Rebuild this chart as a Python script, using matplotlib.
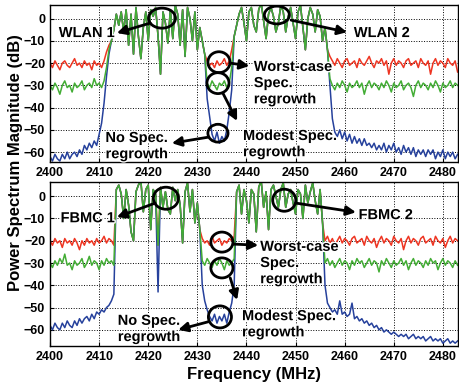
import matplotlib
matplotlib.use('agg')
import matplotlib.pyplot as plt
from matplotlib.patches import Ellipse
import matplotlib.patheffects as pe
import numpy as np

plt.rcParams['font.family'] = ['Liberation Sans', 'DejaVu Sans']
plt.rcParams['font.weight'] = 'bold'

# frequency grid, 0.5 MHz spacing
freq = np.arange(2400.0, 2483.01, 0.5)

# ---- WLAN measurement (upper panel) ----
wlan_red_left = [-20, -22, -19, -21, -23, -20, -19, -21, -22, -20, -18, -21, -20,
                 -22, -19, -21, -20, -23, -19, -21, -20, -22, -19, -15, -12]
wlan_green_left = [-30, -32, -29, -31, -34, -30, -28, -31, -30, -33, -29, -31, -30,
                   -28, -32, -30, -29, -31, -27, -30, -29, -31, -28, -22, -14]
wlan_blue_left = [-62, -64, -61, -63, -64, -61, -63, -60, -63, -61, -60, -62, -59,
                  -61, -57, -59, -56, -58, -55, -57, -52, -47, -38, -26, -16]
wlan_band1 = [-10, -5, 2, -3, 3, -6, 4, -12, 2, -16, 5, -8, -18, -4, 3, -10, 4, 1, 5,
              -8, -25, 3, -2, -11, 4, -9, 6, 2, -12, 4, -17, 5, 0, -10, 3, -14, -4,
              -10, -16]
wlan_red_gap = [-19, -21, -20, -22, -19, -21, -20, -18, -21, -19, -14]
wlan_green_gap = [-29, -31, -28, -30, -32, -29, -30, -28, -31, -29, -22]
wlan_blue_gap = [-36, -44, -52, -55, -51, -56, -53, -55, -50, -42, -32]
wlan_band2 = [-8, -3, 2, 5, -2, -10, 3, 5, -3, -6, 4, 7, -1, -9, 2, 5, 1, -6, -2, 6,
              3, -6, 1, 5, -2, -9, 3, 6, -4, -14, 0, 5, 2, -6, 4, 1, -10, -4, -14]
wlan_red_right = [-17, -19, -21, -18, -20, -22, -19, -18, -21, -20,
                  -19, -22, -18, -20, -21, -19, -17, -20, -22, -19,
                  -20, -18, -21, -19, -25, -20, -18, -21, -19, -20,
                  -22, -19, -18, -21, -20, -19, -22, -18, -20, -21,
                  -19, -25, -20, -18, -21, -19, -20, -22, -18, -20,
                  -21, -19, -24]
wlan_green_right = [-27, -30, -32, -29, -31, -28, -30, -33, -29, -31,
                    -30, -28, -31, -29, -34, -30, -28, -31, -29, -30,
                    -32, -29, -31, -28, -30, -33, -29, -31, -30, -28,
                    -32, -30, -29, -31, -35, -30, -28, -31, -29, -30,
                    -32, -29, -31, -28, -30, -33, -29, -31, -30, -28,
                    -31, -29, -30]
wlan_blue_right = [-30, -45, -51, -53, -50, -54, -51, -55, -52, -56,
                   -53, -56, -54, -57, -54, -57, -56, -58, -56, -59,
                   -57, -59, -56, -60, -57, -59, -56, -60, -58, -61,
                   -57, -60, -58, -61, -58, -62, -59, -61, -59, -62,
                   -59, -61, -59, -63, -60, -62, -59, -63, -60, -62,
                   -60, -63, -61]

# ---- FBMC measurement (lower panel) ----
fbmc_red_left = [-20, -22, -19, -21, -20, -23, -19, -21, -20, -22, -19, -21, -24, -20,
                 -22, -19, -21, -20, -22, -19, -21, -20, -18, -21, -19, -20, -22]
fbmc_green_left = [-30, -32, -29, -31, -28, -30, -26, -31, -30, -33, -29, -31, -30, -28,
                   -32, -30, -27, -31, -29, -30, -33, -29, -31, -28, -30, -29, -31]
fbmc_blue_left = [-58, -60, -57, -59, -60, -57, -59, -56, -58, -59, -56, -58, -55, -57,
                  -55, -54, -56, -53, -55, -52, -53, -51, -52, -50, -49, -47, -44]
fbmc_band1 = [3, 5, 1, -10, 3, -4, -16, -20, 2, 5, 7, -7, 3, 5, -15, 3, 1, -22, 4, -5,
              2, -6, -8, 4, -2, 3, -4, -21, 2, 6, -7, 3, -12, -3, -15]
fbmc_blue_notch = -43  # deep null at 2422 MHz, blue trace only
fbmc_red_gap = [-19, -21, -20, -22, -18, -21, -20, -19, -22, -20, -21, -19, -20, -18]
fbmc_green_gap = [-29, -31, -28, -30, -32, -29, -31, -28, -30, -33, -29, -31, -30, -28]
fbmc_blue_gap = [-40, -47, -51, -54, -56, -53, -57, -54, -56, -53, -57, -52, -48, -40]
fbmc_band2 = [2, 5, -8, 3, -2, -12, 3, 1, -16, 4, 7, -5, 2, -15, 3, 5, 0, -5, 3, 6,
              -5, 1, 3, -3, -8, 3, 1, -10, 5, -3, 2, 6, -2, -8, 3, -12]
fbmc_red_right = [-20, -18, -21, -19, -22, -20, -18, -21, -19, -20,
                  -22, -19, -18, -21, -20, -19, -22, -18, -20, -21,
                  -19, -23, -20, -18, -21, -19, -20, -22, -18, -20,
                  -21, -19, -24, -20, -18, -21, -19, -20, -22, -19,
                  -18, -21, -20, -19, -22, -18, -20, -21, -19, -23,
                  -20, -18, -21, -19, -20]
fbmc_green_right = [-30, -28, -31, -29, -32, -30, -28, -31, -29, -30,
                    -33, -29, -31, -28, -30, -29, -32, -30, -28, -31,
                    -29, -30, -34, -29, -31, -28, -30, -32, -29, -31,
                    -30, -28, -31, -29, -33, -30, -28, -31, -29, -30,
                    -32, -29, -31, -28, -30, -29, -33, -30, -28, -31,
                    -29, -30, -32, -29, -31]
fbmc_blue_right = [-40, -48, -50, -52, -51, -53, -47, -53, -52, -54,
                   -53, -48, -55, -54, -56, -55, -57, -56, -58, -57,
                   -59, -58, -60, -59, -61, -60, -61, -62, -61, -62,
                   -63, -62, -63, -62, -64, -63, -62, -64, -63, -64,
                   -63, -65, -64, -63, -65, -64, -65, -64, -66, -65,
                   -64, -66, -65, -66, -65]

xticks = [2400, 2410, 2420, 2430, 2440, 2450, 2460, 2470, 2480]
yticks = [0, -10, -20, -30, -40, -50, -60]

RED = '#ee3522'
GREEN = '#43ad35'
BLUE = '#26419c'


def trace(left, band1, gap, band2, right):
    return np.concatenate([left, band1, gap, band2, right]).astype(float)


wlan_red = trace(wlan_red_left, wlan_band1, wlan_red_gap, wlan_band2, wlan_red_right)
wlan_green = trace(wlan_green_left, wlan_band1, wlan_green_gap, wlan_band2, wlan_green_right)
wlan_blue = trace(wlan_blue_left, wlan_band1, wlan_blue_gap, wlan_band2, wlan_blue_right)

fbmc_blue_band1 = list(fbmc_band1)
fbmc_blue_band1[17] = fbmc_blue_notch
fbmc_red = trace(fbmc_red_left, fbmc_band1, fbmc_red_gap, fbmc_band2, fbmc_red_right)
fbmc_green = trace(fbmc_green_left, fbmc_band1, fbmc_green_gap, fbmc_band2, fbmc_green_right)
fbmc_blue = trace(fbmc_blue_left, fbmc_blue_band1, fbmc_blue_gap, fbmc_band2, fbmc_blue_right)


def style_axes(ax, ylim):
    ax.set_xlim(2400, 2483.1)
    ax.set_ylim(*ylim)
    ax.set_xticks(xticks)
    ax.set_yticks(yticks)
    ax.tick_params(direction='in', length=3, labelsize=9, width=0.8)
    ax.grid(True, linestyle=':', color='k', linewidth=0.7)
    for s in ax.spines.values():
        s.set_linewidth(1.0)


def circle(ax, x, y, w, h):
    ax.add_patch(Ellipse((x, y), w, h, fill=False, edgecolor='k', lw=2.0, zorder=6))


def arrow(ax, x0, y0, x1, y1):
    ax.annotate('', xy=(x1, y1), xytext=(x0, y0),
                arrowprops=dict(arrowstyle='-|>', color='k', lw=2.0,
                                mutation_scale=14, shrinkA=0, shrinkB=0),
                zorder=7)


halo = [pe.withStroke(linewidth=2, foreground='white')]


def label(ax, x, y, s, ha='left'):
    ax.text(x, y, s, fontsize=10.5, fontweight='bold', ha=ha, va='center',
            linespacing=1.2, multialignment=ha, zorder=8, path_effects=halo)


fig = plt.figure(figsize=(4.59, 3.86), dpi=100)
ax1 = fig.add_axes([0.109, 0.580, 0.889, 0.407])
ax2 = fig.add_axes([0.109, 0.104, 0.889, 0.424])

for ax, r, g, b in [(ax1, wlan_red, wlan_green, wlan_blue),
                    (ax2, fbmc_red, fbmc_green, fbmc_blue)]:
    ax.plot(freq, r, color=RED, lw=1.1)
    ax.plot(freq, b, color=BLUE, lw=1.1)
    ax.plot(freq, g, color=GREEN, lw=1.1)

style_axes(ax1, (-64.5, 6.1))
style_axes(ax2, (-67.2, 6.3))

# upper panel callouts
circle(ax1, 2422.8, 0.2, 5.5, 9.0)
arrow(ax1, 2420.4, -2.0, 2413.6, -6.5)
label(ax1, 2407.5, -6.5, 'WLAN 1', ha='center')
circle(ax1, 2446.2, 1.6, 5.1, 8.0)
arrow(ax1, 2449.1, -0.7, 2460.5, -6.1)
label(ax1, 2467.6, -6.5, 'WLAN 2', ha='center')
circle(ax1, 2434.4, -19.6, 4.5, 9.4)
arrow(ax1, 2436.7, -20.0, 2440.6, -21.3)
label(ax1, 2441.5, -29.0, 'Worst-case\nSpec.\nregrowth')
circle(ax1, 2434.2, -29.0, 4.5, 9.4)
arrow(ax1, 2435.2, -33.5, 2438.1, -46.0)
label(ax1, 2439.3, -56.4, 'Modest Spec.\nregrowth')
circle(ax1, 2434.2, -51.5, 4.1, 8.0)
arrow(ax1, 2432.2, -53.3, 2424.8, -56.0)
label(ax1, 2417.7, -57.3, 'No Spec.\nregrowth', ha='center')

# lower panel callouts
circle(ax2, 2423.6, -0.9, 5.1, 9.9)
arrow(ax2, 2421.4, -3.1, 2413.6, -9.4)
label(ax2, 2407.7, -9.9, 'FBMC 1', ha='center')
circle(ax2, 2447.7, -1.8, 4.7, 9.9)
arrow(ax2, 2450.1, -3.1, 2462.3, -7.2)
label(ax2, 2468.4, -8.5, 'FBMC 2', ha='center')
circle(ax2, 2435.0, -20.6, 4.5, 9.0)
arrow(ax2, 2437.3, -21.5, 2442.4, -22.0)
label(ax2, 2442.8, -30.0, 'Worst-case\nSpec.\nregrowth')
circle(ax2, 2435.0, -32.2, 4.5, 9.0)
arrow(ax2, 2436.7, -36.7, 2438.1, -46.6)
label(ax2, 2439.1, -57.5, 'Modest Spec.\nregrowth')
circle(ax2, 2434.6, -54.2, 4.7, 9.9)
arrow(ax2, 2432.2, -56.4, 2426.1, -60.0)
label(ax2, 2420.2, -59.6, 'No Spec.\nregrowth', ha='center')

fig.text(0.033, 0.579, 'Power Spectrum Magnitude (dB)', rotation=90,
         ha='center', va='center', fontsize=12, fontweight='bold')
fig.text(0.553, 0.030, 'Frequency (MHz)', ha='center', va='center',
         fontsize=12, fontweight='bold')

fig.savefig('out.png', dpi=100)
